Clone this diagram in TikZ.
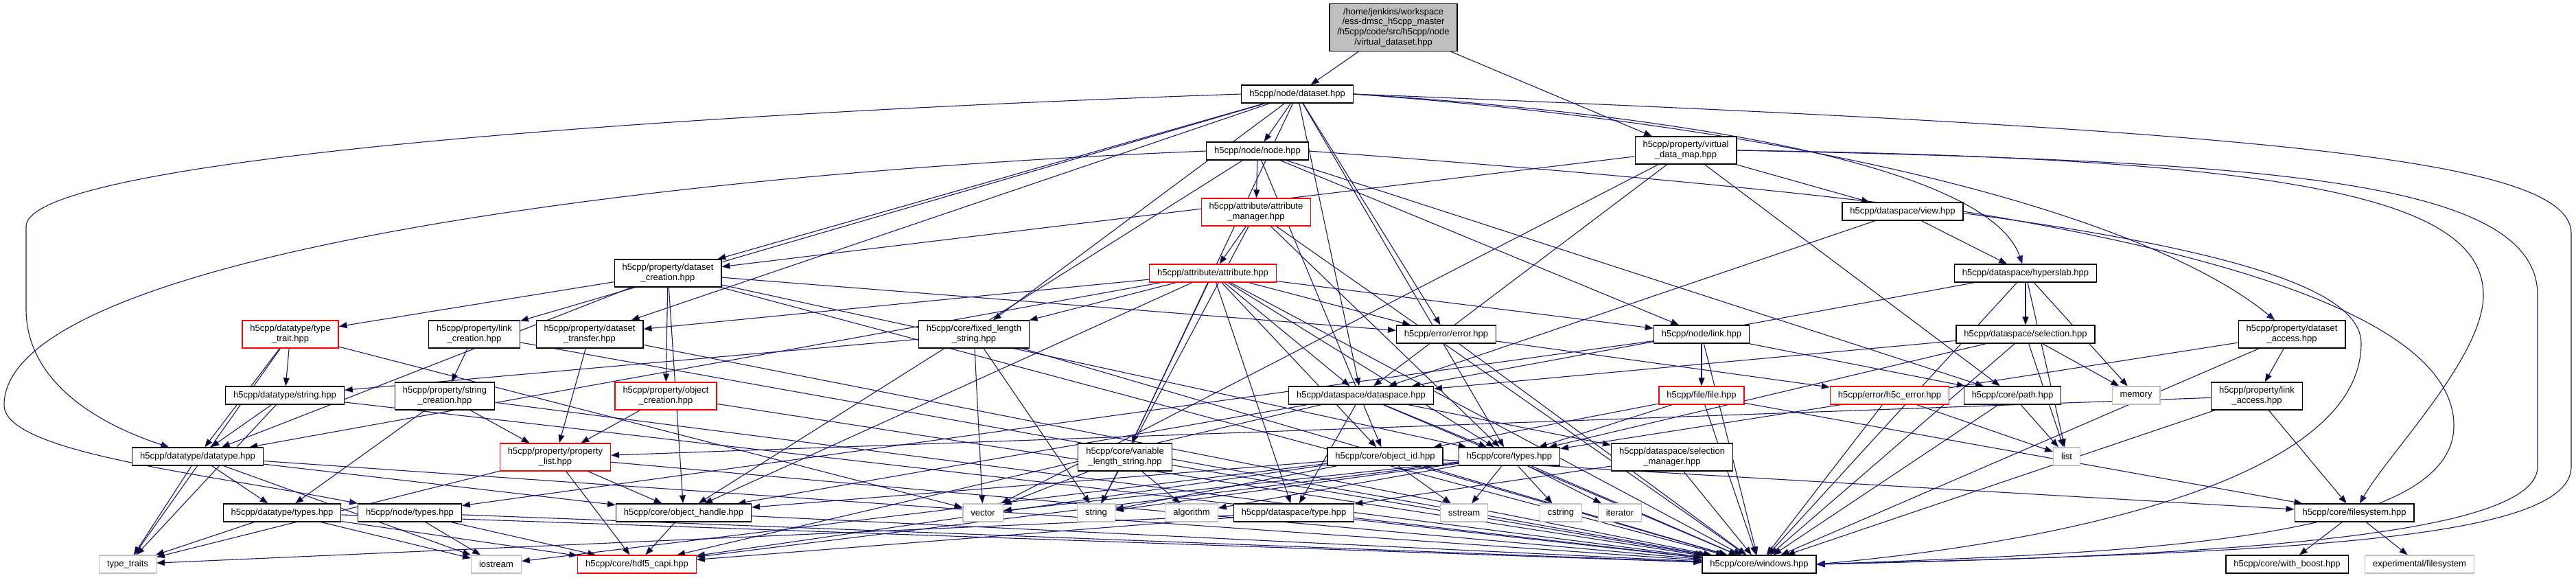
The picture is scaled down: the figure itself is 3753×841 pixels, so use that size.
\documentclass[tikz,border=0pt]{standalone}
\usepackage{fontspec}
\setmainfont{Liberation Sans}
\usetikzlibrary{arrows.meta, backgrounds}
\definecolor{edgeblue}{HTML}{191970}
\definecolor{rootgray}{HTML}{BFBFBF}
\definecolor{sysgray}{HTML}{BFBFBF}
\definecolor{truncred}{HTML}{FF0000}

\begin{document}
\begin{tikzpicture}[
    x=0.5pt, y=-0.5pt,
    header/.style={rectangle, draw=black, fill=white, line width=0.6pt,
                   inner xsep=5.7pt, inner ysep=0pt, minimum height=13pt,
                   align=center, font=\fontsize{6.5}{7.4}\selectfont},
    trunc/.style={header, draw=truncred},
    sysheader/.style={header, draw=sysgray},
    rootheader/.style={header, fill=rootgray, minimum height=34.5pt},
    twoline/.style={minimum height=20pt},
    incl/.style={-{Triangle[length=6pt, width=4.5pt]}, draw=edgeblue, line width=0.55pt}
]
    \useasboundingbox (0,0) rectangle (3753,841);

    \node[rootheader] (root) at (2030,40) {/home/jenkins/workspace\\/ess-dmsc\_h5cpp\_master\\/h5cpp/code/src/h5cpp/node\\/virtual\_dataset.hpp};

    \node[header] (dset) at (1890,137) {h5cpp/node/dataset.hpp};
    \node[header] (nodeh) at (1832,220) {h5cpp/node/node.hpp};
    \node[header, twoline] (vdm) at (2456,219) {h5cpp/property/virtual\\\_data\_map.hpp};
    \node[trunc, twoline] (attrmgr) at (1830,309) {h5cpp/attribute/attribute\\\_manager.hpp};
    \node[header] (view) at (2772,308) {h5cpp/dataspace/view.hpp};
    \node[header, twoline] (dscr) at (973,398) {h5cpp/property/dataset\\\_creation.hpp};
    \node[trunc] (attr) at (1767,398) {h5cpp/attribute/attribute.hpp};
    \node[header] (hslab) at (2951,398) {h5cpp/dataspace/hyperslab.hpp};

    \node[trunc, twoline] (ttrait) at (423,487) {h5cpp/datatype/type\\\_trait.hpp};
    \node[header, twoline] (lcr) at (691,487) {h5cpp/property/link\\\_creation.hpp};
    \node[header, twoline] (dxfer) at (859,487) {h5cpp/property/dataset\\\_transfer.hpp};
    \node[header, twoline] (fls) at (1419,487) {h5cpp/core/fixed\_length\\\_string.hpp};
    \node[header] (err) at (2107,487) {h5cpp/error/error.hpp};
    \node[header] (link) at (2479,487) {h5cpp/node/link.hpp};
    \node[header] (sel) at (2951,487) {h5cpp/dataspace/selection.hpp};
    \node[header, twoline] (dacc) at (3339,487) {h5cpp/property/dataset\\\_access.hpp};

    \node[header] (dtstr) at (415,576) {h5cpp/datatype/string.hpp};
    \node[header, twoline] (strcr) at (648,577) {h5cpp/property/string\\\_creation.hpp};
    \node[trunc, twoline] (objcr) at (970,577) {h5cpp/property/object\\\_creation.hpp};
    \node[header] (dspace) at (1983,576) {h5cpp/dataspace/dataspace.hpp};
    \node[trunc] (fileh) at (2479,576) {h5cpp/file/file.hpp};
    \node[trunc] (h5cerr) at (2753,576) {h5cpp/error/h5c\_error.hpp};
    \node[header] (path) at (2932,576) {h5cpp/core/path.hpp};
    \node[sysheader] (memory) at (3112,576) {memory};
    \node[header, twoline] (lacc) at (3288,577) {h5cpp/property/link\\\_access.hpp};

    \node[header] (dtype) at (288,665) {h5cpp/datatype/datatype.hpp};
    \node[trunc, twoline] (plist) at (809,666) {h5cpp/property/property\\\_list.hpp};
    \node[header, twoline] (vls) at (1639,666) {h5cpp/core/variable\\\_length\_string.hpp};
    \node[header] (oid) at (2018,665) {h5cpp/core/object\_id.hpp};
    \node[header] (ctypes) at (2199,665) {h5cpp/core/types.hpp};
    \node[header, twoline] (selmgr) at (2436,666) {h5cpp/dataspace/selection\\\_manager.hpp};
    \node[sysheader] (list) at (3011,665) {list};

    \node[header] (dttypes) at (411,747) {h5cpp/datatype/types.hpp};
    \node[header] (ntypes) at (597,747) {h5cpp/node/types.hpp};
    \node[header] (ohandle) at (996,747) {h5cpp/core/object\_handle.hpp};
    \node[sysheader] (vector) at (1432,747) {vector};
    \node[sysheader] (string) at (1597,747) {string};
    \node[sysheader] (algorithm) at (1736,747) {algorithm};
    \node[header] (dstype) at (1885,747) {h5cpp/dataspace/type.hpp};
    \node[sysheader] (sstream) at (2133,747) {sstream};
    \node[sysheader] (cstring) at (2274,747) {cstring};
    \node[sysheader] (iterator) at (2360,747) {iterator};
    \node[header] (fsys) at (3430,747) {h5cpp/core/filesystem.hpp};

    \node[sysheader] (ttraits) at (186,822) {type\_traits};
    \node[sysheader] (iostream) at (723,822) {iostream};
    \node[trunc] (capi) at (928,822) {h5cpp/core/hdf5\_capi.hpp};
    \node[header] (windows) at (2563,822) {h5cpp/core/windows.hpp};
    \node[header] (wboost) at (3332,822) {h5cpp/core/with\_boost.hpp};
    \node[sysheader] (expfs) at (3525,822) {experimental/filesystem};

    \begin{scope}[on background layer]
    \fill[white] (0,0) rectangle (3753,841);

    \draw[incl] (root) edge (dset) edge (vdm);
    \draw[incl] (dset) edge (nodeh) edge (dscr) edge (lcr) edge (dxfer) edge (fls)
        edge (vls) edge (dspace) edge (err) edge (ctypes);
    \draw[incl] (dset.west) .. controls (1000,165) and (38,230) .. (38,330) -- (38,450)
        .. controls (38,560) and (150,620) .. (dtype);
    \draw[incl] (dset.east) .. controls (2500,170) and (2900,250) .. (hslab);
    \draw[incl] (dset.east) .. controls (2700,190) and (3150,330) .. (dacc);
    \draw[incl] (dset.east) .. controls (3300,190) and (3746,230) .. (3746,340) -- (3746,680)
        .. controls (3746,790) and (3300,805) .. (windows.east);

    \draw[incl] (vdm) edge (dscr) edge (view) edge (dspace) edge (path) edge (vector);
    \draw[incl] (vdm.east) .. controls (3350,230) and (3618,290) .. (3618,430)
        .. controls (3618,520) and (3480,660) .. (fsys);
    \draw[incl] (vdm.east) .. controls (3300,235) and (3697,260) .. (3697,430) -- (3697,680)
        .. controls (3697,785) and (3200,810) .. (windows.east);

    \draw[incl] (view) edge (hslab) edge (dspace);
    \draw[incl] (view.east) .. controls (3300,380) and (3575,480) .. (3575,620)
        .. controls (3575,790) and (3100,805) .. (windows.east);

    \draw[incl] (nodeh) edge (attrmgr) edge (link) edge (path) edge (ohandle) edge (oid);
    \draw[incl] (nodeh.west) .. controls (900,255) and (6,380) .. (6,590)
        .. controls (6,660) and (300,690) .. (ntypes.north west);
    \draw[incl] (nodeh.east) .. controls (3000,300) and (3440,380) .. (3440,500)
        .. controls (3440,700) and (3000,790) .. (windows.east);

    \draw[incl] (attrmgr) edge (attr) edge (string) edge (ctypes) edge (windows);
    \draw[incl] (attr) edge (dtype) edge (dxfer) edge (ohandle) edge (fls) edge (vls)
        edge (dspace) edge (link) edge (err) edge (oid) edge (ctypes) edge (dstype)
        edge (windows);
    \draw[incl] (dscr) edge (ttrait) edge (objcr) edge (err) edge (ctypes) edge (dtype)
        edge (ohandle) edge (windows);
    \draw[incl] (ttrait) edge (dtstr) edge (dtype) edge (ttraits) edge (vector);
    \draw[incl] (lcr) edge (strcr) edge (windows);
    \draw[incl] (dxfer) edge (plist) edge (windows);
    \draw[incl] (objcr) edge (plist) edge (windows);
    \draw[incl] (strcr) edge (plist) edge (dttypes) edge (windows);
    \draw[incl] (dtstr) edge (dtype) edge (ttraits) edge (windows);
    \draw[incl] (dtype) edge (dttypes) edge (ttraits) edge (iostream) edge (ohandle)
        edge (windows);
    \draw[incl] (plist) edge (ttraits) edge (capi) edge (ohandle) edge (windows);
    \draw[incl] (dttypes) edge (ttraits) edge (iostream) edge (capi) edge (windows);
    \draw[incl] (ntypes) edge (iostream) edge (capi) edge (windows);
    \draw[incl] (ohandle) edge (capi) edge (windows);
    \draw[incl] (oid) edge (ohandle) edge (sstream) edge (capi) edge (windows) edge (fsys)
        edge (string) edge (iostream);
    \draw[incl] (ctypes) edge (sstream) edge (cstring) edge (iterator) edge (vector)
        edge (string) edge (algorithm) edge (capi) edge (windows);
    \draw[incl] (vls) edge (vector) edge (string) edge (algorithm) edge (windows);
    \draw[incl] (fls) edge (dtstr) edge (vector) edge (string) edge (windows);
    \draw[incl] (dspace) edge (ohandle) edge (ctypes) edge (selmgr) edge (dstype)
        edge (capi) edge (windows);
    \draw[incl] (err) edge (h5cerr) edge (windows);
    \draw[incl] (link) edge (fileh) edge (path) edge (ntypes) edge (windows);
    \draw[incl] (fileh) edge (fsys) edge (oid) edge (ctypes) edge (windows);
    \draw[incl] (h5cerr) edge (list) edge (windows);
    \draw[incl] (path) edge (list) edge (windows);
    \draw[incl] (lacc) edge (fsys) edge (plist) edge (windows);
    \draw[incl] (dacc) edge (lacc) edge (ctypes) edge (windows);
    \draw[incl] (selmgr) edge (dstype) edge (windows);
    \draw[incl] (sel) edge (dspace) edge (ctypes) edge (memory) edge (list) edge (windows);
    \draw[incl] (hslab) edge (sel) edge (memory) edge (list) edge (dspace) edge (windows);
    \draw[incl] (dstype) edge (ttraits) edge (capi) edge (windows);
    \draw[incl] (fsys) edge (wboost) edge (expfs);
    \end{scope}
\end{tikzpicture}
\end{document}
